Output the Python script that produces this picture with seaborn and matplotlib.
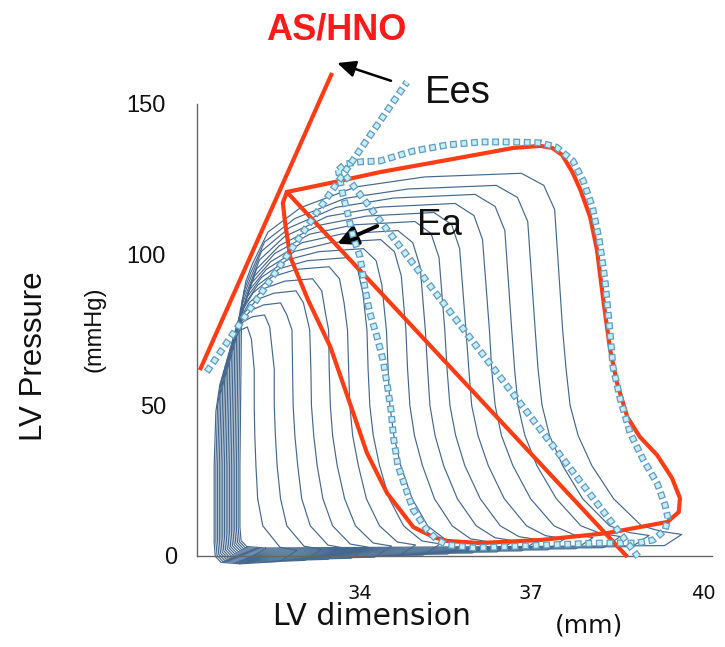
import numpy as np
import pandas as pd
import matplotlib
matplotlib.use('Agg')
import matplotlib.pyplot as plt
import matplotlib.transforms as mtransforms
import seaborn as sns

sns.set_style('white')
plt.rcParams['font.family'] = ['Liberation Sans', 'DejaVu Sans']
plt.rcParams['lines.scale_dashes'] = False

# thin loops during the occlusion run (x = LV dimension mm, y = LV pressure mmHg)
loop01_x = [31.75, 31.42, 31.32, 31.30, 31.30, 31.33, 31.40, 31.52, 31.63, 31.74, 31.88, 31.95, 32.00, 32.00, 32.01, 32.03, 32.06, 32.15, 32.45, 32.75, 32.45]
loop01_y = [-2.6, -2.1, -0.1, 4.4, 30, 48, 57, 63, 70.5, 74.8, 76, 72, 62, 50, 40, 30, 19, 10, 2.9, 1.9, -1.8]
loop02_x = [31.78, 31.45, 31.35, 31.33, 31.33, 31.36, 31.43, 31.55, 31.62, 31.69, 31.81, 31.97, 32.18, 32.27, 32.35, 32.35, 32.37, 32.40, 32.46, 32.57, 32.87, 33.18, 32.88]
loop02_y = [-2.25, -1.75, 0.25, 4.75, 30, 50, 59, 65, 70.3, 74.3, 77.8, 79.4, 80, 76, 62, 50, 40, 30, 19, 10, 3.25, 2.25, -1.45]
loop03_x = [31.81, 31.48, 31.38, 31.36, 31.36, 31.39, 31.46, 31.58, 31.66, 31.76, 31.94, 32.16, 32.46, 32.57, 32.66, 32.67, 32.68, 32.71, 32.76, 32.83, 32.98, 33.29, 33.59, 33.29]
loop03_y = [-1.9, -1.4, 0.6, 5.1, 30, 52, 61, 67, 72.9, 77.5, 81.5, 83.3, 84, 80, 75, 62, 50, 40, 30, 19, 10, 3.6, 2.6, -1.1]
loop04_x = [31.84, 31.51, 31.41, 31.39, 31.39, 31.42, 31.49, 31.61, 31.70, 31.83, 32.06, 32.34, 32.73, 32.86, 32.97, 32.99, 33.00, 33.04, 33.10, 33.20, 33.37, 33.68, 33.99, 33.69]
loop04_y = [-1.55, -1.05, 0.95, 5.45, 30, 54, 63, 69, 75.7, 80.8, 85.2, 87.2, 88, 84, 75, 62, 50, 40, 30, 19, 10, 3.95, 2.95, -0.75]
loop05_x = [31.87, 31.54, 31.44, 31.42, 31.42, 31.45, 31.52, 31.64, 31.74, 31.91, 32.19, 32.53, 33.02, 33.18, 33.25, 33.30, 33.31, 33.33, 33.37, 33.45, 33.58, 33.77, 34.08, 34.40, 34.10]
loop05_y = [-1.2, -0.7, 1.3, 5.8, 30, 56, 65, 71, 78.4, 84.0, 88.9, 91.2, 92, 88, 80, 75, 62, 50, 40, 30, 19, 10, 4.3, 3.3, -0.4]
loop06_x = [31.90, 31.57, 31.47, 31.45, 31.45, 31.48, 31.55, 31.67, 31.78, 31.98, 32.31, 32.73, 33.31, 33.49, 33.57, 33.63, 33.65, 33.67, 33.72, 33.82, 33.96, 34.19, 34.50, 34.82, 34.52]
loop06_y = [-0.85, -0.35, 1.65, 6.15, 30, 58, 67, 73, 81.1, 87.3, 92.6, 95.1, 96, 92, 84, 75, 62, 50, 40, 30, 19, 10, 4.65, 3.65, -0.05]
loop07_x = [31.93, 31.60, 31.50, 31.48, 31.48, 31.51, 31.58, 31.70, 31.83, 32.06, 32.45, 32.93, 33.61, 33.81, 33.90, 33.97, 33.99, 34.02, 34.08, 34.19, 34.36, 34.61, 34.93, 35.25, 34.95]
loop07_y = [-0.5, 0.0, 2.0, 6.5, 30, 60, 69, 75, 83.4, 89.9, 95.4, 98.0, 99, 95, 87, 75, 62, 50, 40, 30, 19, 10, 5.0, 4.0, 0.3]
loop08_x = [31.96, 31.63, 31.53, 31.51, 31.51, 31.54, 31.61, 31.73, 31.87, 32.13, 32.58, 33.13, 33.91, 34.13, 34.23, 34.31, 34.34, 34.37, 34.44, 34.56, 34.76, 35.03, 35.35, 35.68, 35.38]
loop08_y = [-0.15, 0.35, 2.35, 6.85, 30, 62, 71, 77, 85.8, 92.5, 98.3, 101.0, 102, 98, 90, 75, 62, 50, 40, 30, 19, 10, 5.35, 4.35, 0.65]
loop09_x = [31.99, 31.66, 31.56, 31.54, 31.54, 31.57, 31.64, 31.76, 31.91, 32.21, 32.71, 33.34, 34.21, 34.45, 34.57, 34.65, 34.68, 34.72, 34.80, 34.94, 35.15, 35.46, 35.78, 36.11, 35.81]
loop09_y = [0.2, 0.7, 2.7, 7.2, 30, 64, 73, 79, 88.1, 95.1, 101.1, 104.0, 105, 101, 93, 75, 62, 50, 40, 30, 19, 10, 5.7, 4.7, 1.0]
loop10_x = [32.02, 31.69, 31.59, 31.57, 31.57, 31.60, 31.67, 31.79, 31.95, 32.29, 32.84, 33.54, 34.51, 34.77, 34.90, 34.99, 35.03, 35.07, 35.16, 35.31, 35.55, 35.88, 36.21, 36.54, 36.24]
loop10_y = [0.55, 1.05, 3.05, 7.55, 30, 66, 75, 81, 90.5, 97.7, 104.0, 106.9, 108, 104, 96, 75, 62, 50, 40, 30, 19, 10, 6.05, 5.05, 1.35]
loop11_x = [32.05, 31.72, 31.62, 31.60, 31.60, 31.63, 31.70, 31.82, 32.00, 32.36, 32.97, 33.74, 34.81, 35.09, 35.23, 35.33, 35.37, 35.42, 35.52, 35.68, 35.95, 36.30, 36.63, 36.97, 36.67]
loop11_y = [0.9, 1.4, 3.4, 7.9, 30, 68, 77, 83, 92.8, 100.4, 106.8, 109.9, 111, 107, 99, 75, 62, 50, 40, 30, 19, 10, 6.4, 5.4, 1.7]
loop12_x = [32.08, 31.75, 31.65, 31.63, 31.63, 31.66, 31.73, 31.85, 32.04, 32.44, 33.12, 33.96, 35.14, 35.45, 35.59, 35.70, 35.75, 35.80, 35.91, 36.09, 36.37, 36.76, 37.09, 37.43, 37.13]
loop12_y = [1.25, 1.75, 3.75, 8.25, 30, 70, 79, 85, 95.2, 103.0, 109.7, 112.8, 114, 110, 102, 75, 62, 50, 40, 30, 19, 10, 6.75, 5.75, 2.05]
loop13_x = [32.11, 31.78, 31.68, 31.66, 31.66, 31.69, 31.76, 31.88, 32.09, 32.53, 33.28, 34.21, 35.51, 35.84, 35.99, 36.11, 36.15, 36.21, 36.32, 36.52, 36.83, 37.24, 37.58, 37.92, 37.62]
loop13_y = [1.6, 2.1, 4.1, 8.6, 30, 73, 82, 88, 98.2, 106.0, 112.7, 115.8, 117, 113, 105, 75, 62, 50, 40, 30, 19, 10, 7.1, 6.1, 2.4]
loop14_x = [32.14, 31.81, 31.71, 31.69, 31.69, 31.72, 31.79, 31.91, 32.13, 32.62, 33.43, 34.44, 35.86, 36.21, 36.38, 36.50, 36.55, 36.61, 36.73, 36.94, 37.28, 37.71, 38.06, 38.40, 38.10]
loop14_y = [1.95, 2.45, 4.45, 8.95, 30, 76, 85, 91, 101.2, 109.0, 115.7, 118.8, 120, 116, 108, 75, 62, 50, 40, 30, 19, 10, 7.45, 6.45, 2.75]
loop15_x = [32.17, 31.84, 31.74, 31.72, 31.72, 31.75, 31.82, 31.94, 32.18, 32.71, 33.59, 34.69, 36.23, 36.60, 36.78, 36.91, 36.96, 37.03, 37.16, 37.39, 37.74, 38.21, 38.55, 38.90, 38.60]
loop15_y = [2.3, 2.8, 4.8, 9.3, 30, 79, 88, 94, 104.2, 112.0, 118.7, 121.8, 123, 119, 111, 75, 62, 50, 40, 30, 19, 10, 7.8, 6.8, 3.1]
loop16_x = [32.20, 31.87, 31.77, 31.75, 31.75, 31.78, 31.85, 31.97, 32.24, 32.81, 33.78, 34.98, 36.67, 37.06, 37.25, 37.39, 37.45, 37.52, 37.66, 37.90, 38.28, 38.77, 39.12, 39.47, 39.17]
loop16_y = [2.65, 3.15, 5.15, 9.65, 30, 82, 91, 97, 107.5, 115.6, 122.5, 125.8, 127, 123, 115, 75, 62, 50, 40, 30, 19, 10, 8.15, 7.15, 3.45]

# AS/HNO loop (red)
red_loop_x = [32.57, 33.33, 34.20, 35.37, 35.95, 36.52, 37.00, 37.21, 37.38, 37.56,
              37.70, 37.87, 37.99, 38.10, 38.22, 38.34, 38.52, 38.74, 39.04, 39.30,
              39.44, 39.42, 39.22, 38.17, 37.00, 35.95, 35.37, 35.13, 34.78, 34.32,
              33.97, 33.73, 33.33, 32.94, 32.63, 32.54, 32.50]
red_loop_y = [120.8, 123.8, 127.4, 131.4, 133.4, 135.4, 136.1, 135.4, 133.1, 127.4,
              121.5, 112.5, 101.6, 85.0, 68.4, 57.4, 46.1, 39.5, 33.5, 25.9,
              19.2, 14.6, 11.3, 7.6, 5.3, 4.3, 5.0, 6.3, 9.6, 20.9,
              34.2, 47.5, 69.4, 85.0, 99.2, 110.5, 117.2]

# baseline loop (dotted squares)
dot_loop_x = [33.47, 33.59, 33.85, 34.20, 34.78, 35.37, 35.95, 36.52, 37.00, 37.28,
              37.57, 37.75, 37.91, 38.03, 38.13, 38.22, 38.27, 38.40, 38.57, 38.80,
              39.04, 39.18, 39.23, 39.18, 38.97, 38.69, 38.05, 37.17, 36.30, 35.83,
              35.37, 35.20, 35.02, 34.78, 34.64, 34.51, 34.44, 34.39, 34.32, 34.25,
              34.15, 34.02, 33.94, 33.85, 33.73, 33.62, 33.55, 33.50]
dot_loop_y = [128.1, 130.1, 130.8, 131.1, 134.4, 136.4, 137.4, 137.4, 137.1, 135.7,
              131.1, 124.5, 115.8, 104.9, 91.6, 74.0, 62.7, 51.8, 40.8, 31.9,
              24.2, 16.9, 12.6, 8.6, 5.3, 4.3, 4.3, 3.7, 3.0, 2.7,
              3.7, 5.3, 8.6, 15.3, 22.9, 30.2, 38.5, 48.5, 57.4, 65.1,
              72.4, 80.7, 88.3, 99.2, 105.9, 114.8, 119.8, 124.8]

# Ees and Ea lines
red_ees_x = [31.05, 33.36]
red_ees_y = [61.7, 160.3]
red_ea_x = [32.57, 38.52]
red_ea_y = [120.8, -0.3]
dot_ees_x = [31.17, 34.67]
dot_ees_y = [61.1, 157.3]
dot_ea_x = [33.59, 38.71]
dot_ea_y = [126.4, -0.3]

y_ticks = [50, 100, 150]
x_ticks = [34, 37, 40]

RED = '#ff3c14'
THIN = '#45688e'
SQ_EDGE = '#5f9dc6'
SQ_FACE = '#c8eef6'

W, H = 725, 647


def fx(px):
    return px / W


def fy(py):
    return 1 - py / H


fig = plt.figure(figsize=(7.25, 6.47), dpi=100)
ax = fig.add_axes([fx(197), fy(556), 515 / W, 452 / H])

thin_loops = [(loop01_x, loop01_y), (loop02_x, loop02_y), (loop03_x, loop03_y),
              (loop04_x, loop04_y), (loop05_x, loop05_y), (loop06_x, loop06_y),
              (loop07_x, loop07_y), (loop08_x, loop08_y), (loop09_x, loop09_y),
              (loop10_x, loop10_y), (loop11_x, loop11_y), (loop12_x, loop12_y),
              (loop13_x, loop13_y), (loop14_x, loop14_y), (loop15_x, loop15_y),
              (loop16_x, loop16_y)]
frames = []
for i, (lx, ly) in enumerate(thin_loops):
    frames.append(pd.DataFrame({'dim': list(lx) + [lx[0]],
                                'pressure': list(ly) + [ly[0]],
                                'loop': i}))
thin_df = pd.concat(frames, ignore_index=True)
sns.lineplot(data=thin_df, x='dim', y='pressure', units='loop', estimator=None,
             sort=False, color=THIN, linewidth=0.85, legend=False, ax=ax,
             clip_on=False, zorder=2)


def closed(v):
    return list(v) + [v[0]]


# red loop + lines
sns.lineplot(x=closed(red_loop_x), y=closed(red_loop_y), sort=False, estimator=None,
             color=RED, linewidth=3, ax=ax, clip_on=False, zorder=3)
ax.plot(red_ees_x, red_ees_y, color=RED, lw=3, solid_capstyle='butt', clip_on=False, zorder=3)
ax.plot(red_ea_x, red_ea_y, color=RED, lw=3, solid_capstyle='butt', clip_on=False, zorder=3)


def square_dots(x, y):
    # outlined squares along the path: dark dashes with light dashes inside
    ax.plot(x, y, color=SQ_EDGE, lw=5, linestyle=(0, (5, 2.6)), clip_on=False, zorder=4)
    ax.plot(x, y, color=SQ_FACE, lw=3.2, linestyle=(6.7, (3.2, 4.4)), clip_on=False, zorder=4)


square_dots(closed(dot_loop_x), closed(dot_loop_y))
square_dots(dot_ees_x, dot_ees_y)
square_dots(dot_ea_x, dot_ea_y)

# arrows
ax.annotate('', xy=(33.45, 163.6), xytext=(34.39, 157.7), annotation_clip=False,
            arrowprops=dict(arrowstyle='-|>,head_length=0.55,head_width=0.25', color='black',
                            lw=1.8, mutation_scale=20, shrinkA=0, shrinkB=0))
ax.annotate('', xy=(33.45, 103.6), xytext=(34.15, 109.5), annotation_clip=False,
            arrowprops=dict(arrowstyle='-|>,head_length=0.6,head_width=0.3', color='black',
                            lw=2.8, mutation_scale=20, shrinkA=0, shrinkB=0))

ax.set_xlim(31, 40)
ax.set_ylim(0, 150)
sns.despine(ax=ax)
for side in ['left', 'bottom']:
    ax.spines[side].set_color('#666666')
    ax.spines[side].set_linewidth(1.0)

ax.set_yticks(y_ticks)
ax.set_yticklabels([str(v) for v in y_ticks])
ax.set_yticks([0], minor=True)
ax.set_yticklabels(['0'], minor=True)
ax.tick_params(axis='y', which='major', direction='out', length=13, width=1.3,
               color='#333333', pad=9.4, labelsize=17, labelcolor='#111111')
ax.tick_params(axis='y', which='minor', length=0, pad=14.4, labelsize=17, labelcolor='#111111')
ax.set_xticks(x_ticks)
ax.set_xticklabels([str(v) for v in x_ticks])
ax.tick_params(axis='x', which='major', direction='in', length=7, width=1.2,
               color='#333333', pad=20, labelsize=14, labelcolor='#111111')
ax.set_xlabel('')
ax.set_ylabel('')
shift = mtransforms.ScaledTranslation(-9 / 100, 0, fig.dpi_scale_trans)
for lbl in ax.get_xticklabels():
    lbl.set_fontfamily('DejaVu Sans')
    lbl.set_transform(lbl.get_transform() + shift)

# texts
fig.text(fx(336), fy(39), 'AS/HNO', color='#ff1a1a', fontsize=26, fontweight='bold',
         ha='center', va='baseline')
fig.text(fx(425), fy(103), 'Ees', fontsize=27.5, color='#111111', ha='left', va='baseline')
fig.text(fx(417), fy(235), 'Ea', fontsize=26.5, color='#111111', ha='left', va='baseline')
fig.text(fx(42), fy(356), 'LV Pressure', rotation=90, rotation_mode='anchor',
         ha='center', va='baseline', fontsize=22.5, color='#111111')
fig.text(fx(101), fy(329), '(mmHg)', rotation=90, rotation_mode='anchor',
         ha='center', va='baseline', fontsize=17, color='#111111')
fig.text(fx(371.5), fy(625), 'LV dimension', family='DejaVu Sans', fontsize=21.5,
         ha='center', va='baseline', color='#111111')
fig.text(fx(589), fy(632), '(mm)', family='DejaVu Sans', fontsize=18,
         ha='center', va='baseline', color='#111111')

fig.savefig('out.png', dpi=100)
